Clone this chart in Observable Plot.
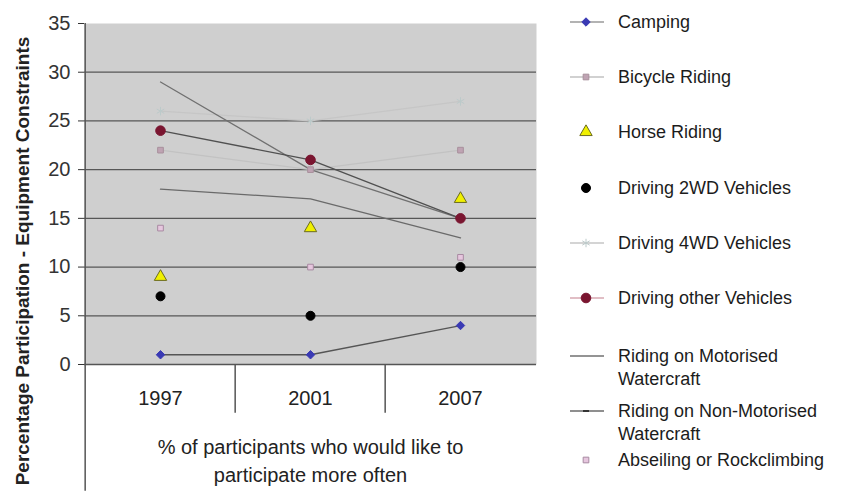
<!DOCTYPE html>
<html>
<head>
<meta charset="utf-8">
<script src="https://cdn.jsdelivr.net/npm/d3@7"></script>
<script src="https://cdn.jsdelivr.net/npm/@observablehq/plot@0.6"></script>
<style>
  body { margin: 0; background: #fff; }
  #wrap { position: relative; width: 841px; height: 498px; overflow: hidden;
          font-family: "Liberation Sans", Arial, sans-serif; }
  .item { position: absolute; left: 618px; width: 216px; font-size: 18px; line-height: 23px; color: #1c1c1c; }
  .mk { position: absolute; left: 566px; width: 40px; height: 22px; }
  #ytitle { position: absolute; left: 22px; top: 261px; white-space: nowrap; font-size: 19px; font-weight: bold;
            color: #222; transform: translate(-50%, -50%) rotate(-90deg); line-height: 1; }
</style>
</head>
<body>
<div id="wrap"></div>
<script>
// ---- data ----
const years = ["1997", "2001", "2007"];
const seriesNames = [
  "Camping", "Bicycle Riding", "Horse Riding", "Driving 2WD Vehicles", "Driving 4WD Vehicles",
  "Driving other Vehicles", "Riding on Motorised Watercraft", "Riding on Non-Motorised Watercraft",
  "Abseiling or Rockclimbing"
];
const camping = [1, 1, 4];
const bicycleRiding = [22, 20, 22];
const horseRiding = [9, 14, 17];
const driving2WD = [7, 5, 10];
const driving4WD = [26, 25, 27];
const drivingOther = [24, 21, 15];
const motorisedWatercraft = [29, 20, 15];
const nonMotorisedWatercraft = [18, 17, 13];
const abseiling = [14, 10, 11];
const yTicks = [0, 5, 10, 15, 20, 25, 30, 35];
const yTitle = "Percentage Participation - Equipment Constraints";
const xTitle = "% of participants who would like to\nparticipate more often";

const seriesValues = [camping, bicycleRiding, horseRiding, driving2WD, driving4WD,
  drivingOther, motorisedWatercraft, nonMotorisedWatercraft, abseiling];

// ---- styles ----
const styles = {
  "Camping": {line: "#555", symbol: "diamond2", fill: "#3a3ab4", stroke: "#3a3ab4", r: 3.8},
  "Bicycle Riding": {line: "#c2c2c2", symbol: "square", fill: "#bfa3b3", stroke: "#a8909c", r: 3.2},
  "Horse Riding": {line: null, symbol: "triangle", fill: "#f0f000", stroke: "#6b6b20", r: 4.6},
  "Driving 2WD Vehicles": {line: null, symbol: "circle", fill: "#000", stroke: "#000", r: 4.5},
  "Driving 4WD Vehicles": {line: "#c6c6c6", symbol: "asterisk", fill: "none", stroke: "#bccaca", r: 4},
  "Driving other Vehicles": {line: "#505050", symbol: "circle", fill: "#7a1530", stroke: "#7a1530", r: 4.8},
  "Riding on Motorised Watercraft": {line: "#707070", symbol: null},
  "Riding on Non-Motorised Watercraft": {line: "#6a6a6a", symbol: null},
  "Abseiling or Rockclimbing": {line: null, symbol: "square", fill: "#e6c6de", stroke: "#a88aa2", r: 3.2}
};

const rows = [];
seriesNames.forEach((name, i) => seriesValues[i].forEach((v, j) => rows.push({series: name, year: years[j], value: v})));
const of = name => rows.filter(d => d.series === name);

// ---- layout ----
const W = 841, H = 498, ML = 84, MR = 305, MT = 23, MB = 134;
const step = (W - ML - MR) / years.length;

const lineOrder = ["Bicycle Riding", "Driving 4WD Vehicles", "Riding on Non-Motorised Watercraft",
  "Riding on Motorised Watercraft", "Camping", "Driving other Vehicles"];
const lineMarks = lineOrder.map(n => Plot.line(of(n), {x: "year", y: "value", stroke: styles[n].line, strokeWidth: 1.3}));
const dotMarks = seriesNames.filter(n => styles[n].symbol).map(n => Plot.dot(of(n), {
  x: "year", y: "value", symbol: () => styles[n].symbol, r: styles[n].r,
  fill: styles[n].fill, stroke: styles[n].stroke, strokeWidth: 1
}));

const chart = Plot.plot({
  width: W, height: H,
  marginLeft: ML, marginRight: MR, marginTop: MT, marginBottom: MB,
  x: {type: "band", domain: years, padding: 0},
  y: {domain: [0, 35]},
  symbol: {type: "identity"},
  style: {fontFamily: "'Liberation Sans', Arial, sans-serif", background: "transparent", color: "#222"},
  marks: [
    Plot.frame({fill: "#cfcfcf", stroke: null}),
    Plot.gridY(yTicks.filter(t => t > 0 && t < 35), {stroke: "#575757", strokeOpacity: 1, strokeWidth: 1.3}),
    Plot.ruleY([0], {stroke: "#555", strokeWidth: 1.5}),
    Plot.ruleX(years.slice(1), {x: d => d, dx: -step / 2, y1: 0, y2: -5, stroke: "#555", strokeWidth: 1.5}),
    Plot.ruleX([years[0]], {x: d => d, dx: -step / 2, y1: 35, y2: -13, stroke: "#555", strokeWidth: 1.5}),
    Plot.axisY({ticks: yTicks, tickSize: 6, tickPadding: 8, fontSize: 20, label: null, color: "#333"}),
    Plot.axisX({tickSize: 0, tickPadding: 26, fontSize: 20, label: null, color: "#222"}),
    ...lineMarks,
    ...dotMarks,
    Plot.text([xTitle], {text: d => d, frameAnchor: "bottom", lineAnchor: "middle", dy: 95, fontSize: 20, lineHeight: 1.4, fill: "#222"})
  ]
});

const wrap = document.getElementById("wrap");
wrap.appendChild(chart);

const yt = document.createElement("div");
yt.id = "ytitle";
yt.textContent = yTitle;
wrap.appendChild(yt);

// ---- legend ----
const legendY = [22, 77, 132, 188, 243, 298, 356, 411, 460];
const symMap = {diamond2: d3.symbolDiamond2, square: d3.symbolSquare, triangle: d3.symbolTriangle,
  circle: d3.symbolCircle, asterisk: d3.symbolAsterisk};
seriesNames.forEach((name, i) => {
  const st = styles[name];
  const item = document.createElement("div");
  item.className = "item";
  item.style.top = (legendY[i] - 11.5) + "px";
  item.textContent = name;
  wrap.appendChild(item);
  const svg = d3.create("svg").attr("class", "mk").attr("width", 40).attr("height", 22)
    .style("top", (legendY[i] - 11) + "px");
  if (st.line) svg.append("line").attr("x1", 4).attr("x2", 38).attr("y1", 11).attr("y2", 11)
    .attr("stroke", name === "Driving other Vehicles" ? "#d7a9b2" : st.line === "#555" ? "#9a9a9a" : st.line)
    .attr("stroke-width", 1.3);
  if (name === "Riding on Non-Motorised Watercraft")
    svg.append("line").attr("x1", 17).attr("x2", 23).attr("y1", 11).attr("y2", 11).attr("stroke", "#333").attr("stroke-width", 2);
  if (st.symbol) {
    const s = symMap[st.symbol];
    const size = Math.PI * st.r * st.r;
    svg.append("path").attr("transform", "translate(20,11)").attr("d", d3.symbol(s, size)())
      .attr("fill", st.fill).attr("stroke", st.stroke).attr("stroke-width", 1);
  }
  wrap.appendChild(svg.node());
});
</script>
</body>
</html>
